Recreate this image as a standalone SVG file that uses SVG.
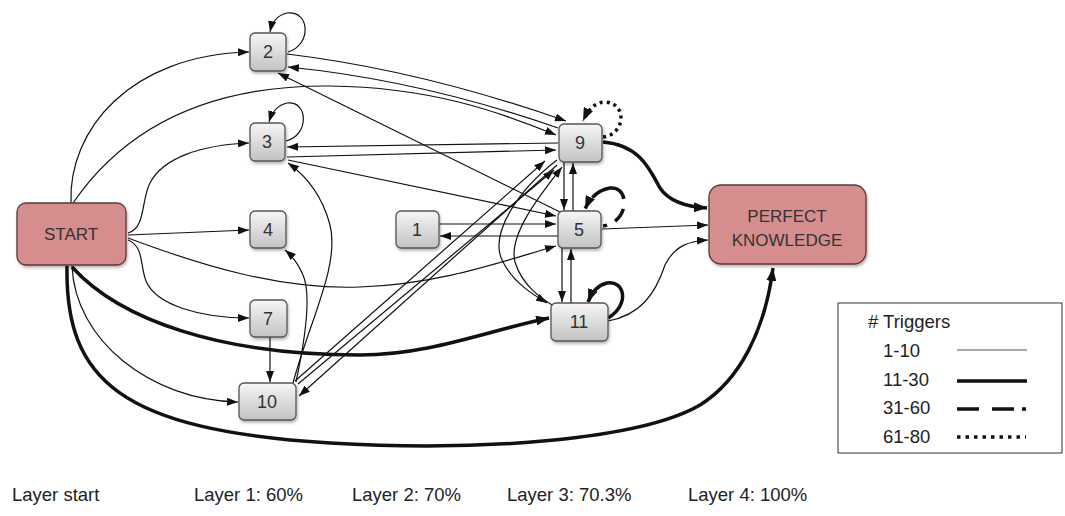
<svg xmlns="http://www.w3.org/2000/svg" width="1065" height="516" viewBox="0 0 1065 516">
<defs>
<linearGradient id="g" x1="0" y1="0" x2="0" y2="1">
<stop offset="0" stop-color="#f6f6f6"/>
<stop offset="1" stop-color="#c2c2c2"/>
</linearGradient>
<filter id="sh" x="-20%" y="-20%" width="140%" height="150%">
<feDropShadow dx="1" dy="2" stdDeviation="1.5" flood-color="#000" flood-opacity="0.3"/>
</filter>
<marker id="a" markerUnits="userSpaceOnUse" markerWidth="11" markerHeight="8" refX="11" refY="4" orient="auto">
<path d="M0,0 L11,4 L0,8 z" fill="#111"/>
</marker>
<marker id="at" markerUnits="userSpaceOnUse" markerWidth="13" markerHeight="10" refX="13" refY="5" orient="auto">
<path d="M0,0 L13,5 L0,10 z" fill="#111"/>
</marker>
<style>
.n{fill:url(#g);stroke:#555;stroke-width:1.3;filter:url(#sh)}
.r{fill:#d68d8d;stroke:#5a3838;stroke-width:1.3;filter:url(#sh)}
.t{font-family:"Liberation Sans",Arial,sans-serif;font-size:17px;fill:#333;text-anchor:middle}
.d{font-size:18px}
.lt{font-family:"Liberation Sans",Arial,sans-serif;font-size:18.5px;fill:#222}
.e{fill:none;stroke:#111;stroke-width:1.2;marker-end:url(#a)}
.k{fill:none;stroke:#111;stroke-width:3.5;marker-end:url(#at)}
</style>
</defs>
<rect width="1065" height="516" fill="#fff"/>
<g id="connectors">
<path class="e" d="M71,203 C68,130 130,55 249,52"/>
<path class="e" d="M73,203 C130,120 220,85 330,86 C430,87 500,112 556,135"/>
<path class="e" d="M128,233 C146,228 141,200 150,183 C163,158 200,145 249,143"/>
<path class="e" d="M128,235 L249,230"/>
<path class="e" d="M128,238 C200,265 280,290 360,287 C440,284 500,262 556,246"/>
<path class="e" d="M128,240 C144,246 140,266 146,281 C156,305 200,318 249,318"/>
<path class="e" d="M72,266 C75,340 150,400 238,402"/>
<path class="e" d="M287,54 Q420,70 566,121"/>
<path class="e" d="M558,128 Q420,80 288,67"/>
<path class="e" d="M560,212 L278,73"/>
<path class="e" d="M558,143 L287,147"/>
<path class="e" d="M287,157 L556,150"/>
<path class="e" d="M288,160 L556,216"/>
<path class="e" d="M439,224 L556,224"/>
<path class="e" d="M558,236 L440,236"/>
<path class="e" d="M564,162 L564,210"/>
<path class="e" d="M573,211 L573,163"/>
<path class="e" d="M562,248 L562,302"/>
<path class="e" d="M571,303 L571,249"/>
<path class="e" d="M602,229 L708,225"/>
<path class="e" d="M608,321 C640,315 655,295 665,265 C675,245 690,241 708,240"/>
<path class="e" d="M270,337 L270,382"/>
<path class="e" d="M293,383 C310,320 340,265 330,225 C322,195 305,175 288,163"/>
<path class="e" d="M296,382 C305,340 312,295 303,275 C298,263 292,256 285,250"/>
<path class="e" d="M295,381 L545,161"/>
<path class="e" d="M298,384 L554,170"/>
<path class="e" d="M557,165 L299,396"/>
<path class="e" d="M557,160 C518,190 488,235 503,262 C513,282 532,294 547,303"/>
<path class="e" d="M557,308 C540,298 522,285 515,262 C508,235 540,195 562,167"/>
<path class="e" d="M288,52 C312,45 310,10 287,13 C278,15 272,22 270,32"/>
<path class="e" d="M286,141 C310,135 308,100 287,103 C278,105 272,112 269,122"/>
<path class="k" d="M603,142 C640,145 650,170 660,188 C670,203 690,207 707,208"/>
<path class="k" d="M72,267 C120,320 220,355 360,355 C430,355 490,330 549,318"/>
<path class="k" d="M67,266 C65,380 120,430 330,443 C480,452 640,440 700,405 C740,380 765,330 773,268"/>
<path class="k" d="M608,318 C630,305 625,280 607,283 C598,285 592,292 588,302"/>
<path class="k" stroke-dasharray="3 4" d="M603,137 C625,135 628,103 605,102 C595,102 588,110 583,121"/>
<path class="k" stroke-dasharray="4 9 15 10 40" d="M603,226 C630,222 630,186 610,188 C598,190 590,198 585,209"/>
</g>
<g id="start"><rect class="r" x="17" y="203" width="109" height="62" rx="9"/><text class="t" x="71" y="240">START</text></g>
<g id="pk"><rect class="r" x="709" y="185" width="157" height="79" rx="12"/><text class="t" x="787" y="222">PERFECT</text><text class="t" x="787" y="246">KNOWLEDGE</text></g>
<g id="n2"><rect class="n" x="250" y="33" width="36" height="38" rx="5"/><text class="t d" x="268" y="58">2</text></g>
<g id="n3"><rect class="n" x="250" y="123" width="35" height="38" rx="5"/><text class="t d" x="267" y="148">3</text></g>
<g id="n4"><rect class="n" x="250" y="211" width="36" height="37" rx="5"/><text class="t d" x="268" y="236">4</text></g>
<g id="n7"><rect class="n" x="250" y="300" width="37" height="37" rx="5"/><text class="t d" x="268" y="325">7</text></g>
<g id="n10"><rect class="n" x="239" y="383" width="57" height="37" rx="5"/><text class="t d" x="267" y="408">10</text></g>
<g id="n1"><rect class="n" x="396" y="211" width="43" height="37" rx="5"/><text class="t d" x="417" y="236">1</text></g>
<g id="n9"><rect class="n" x="559" y="124" width="43" height="38" rx="5"/><text class="t d" x="580" y="149">9</text></g>
<g id="n5"><rect class="n" x="558" y="211" width="43" height="37" rx="5"/><text class="t d" x="579" y="236">5</text></g>
<g id="n11"><rect class="n" x="551" y="303" width="57" height="38" rx="5"/><text class="t d" x="579" y="328">11</text></g>
<g id="legend">
<rect x="838" y="303" width="224" height="150" fill="#fff" stroke="#333" stroke-width="1"/>
<text class="lt" x="868" y="328"># Triggers</text>
<text class="lt" x="883" y="357">1-10</text>
<text class="lt" x="883" y="386">11-30</text>
<text class="lt" x="883" y="414">31-60</text>
<text class="lt" x="883" y="443">61-80</text>
<line x1="957" y1="350" x2="1027" y2="350" stroke="#555" stroke-width="1"/>
<line x1="957" y1="381" x2="1027" y2="381" stroke="#111" stroke-width="3.5"/>
<line x1="957" y1="409" x2="1026" y2="409" stroke="#111" stroke-width="3.5" stroke-dasharray="22 13 22 8 4 40"/>
<line x1="957" y1="437" x2="1026" y2="437" stroke="#111" stroke-width="3.5" stroke-dasharray="3.5 5"/>
</g>
<g id="layers">
<text class="lt" x="12" y="501">Layer start</text>
<text class="lt" x="194" y="501">Layer 1: 60%</text>
<text class="lt" x="352" y="501">Layer 2: 70%</text>
<text class="lt" x="507" y="501">Layer 3: 70.3%</text>
<text class="lt" x="688" y="501">Layer 4: 100%</text>
</g>
</svg>
